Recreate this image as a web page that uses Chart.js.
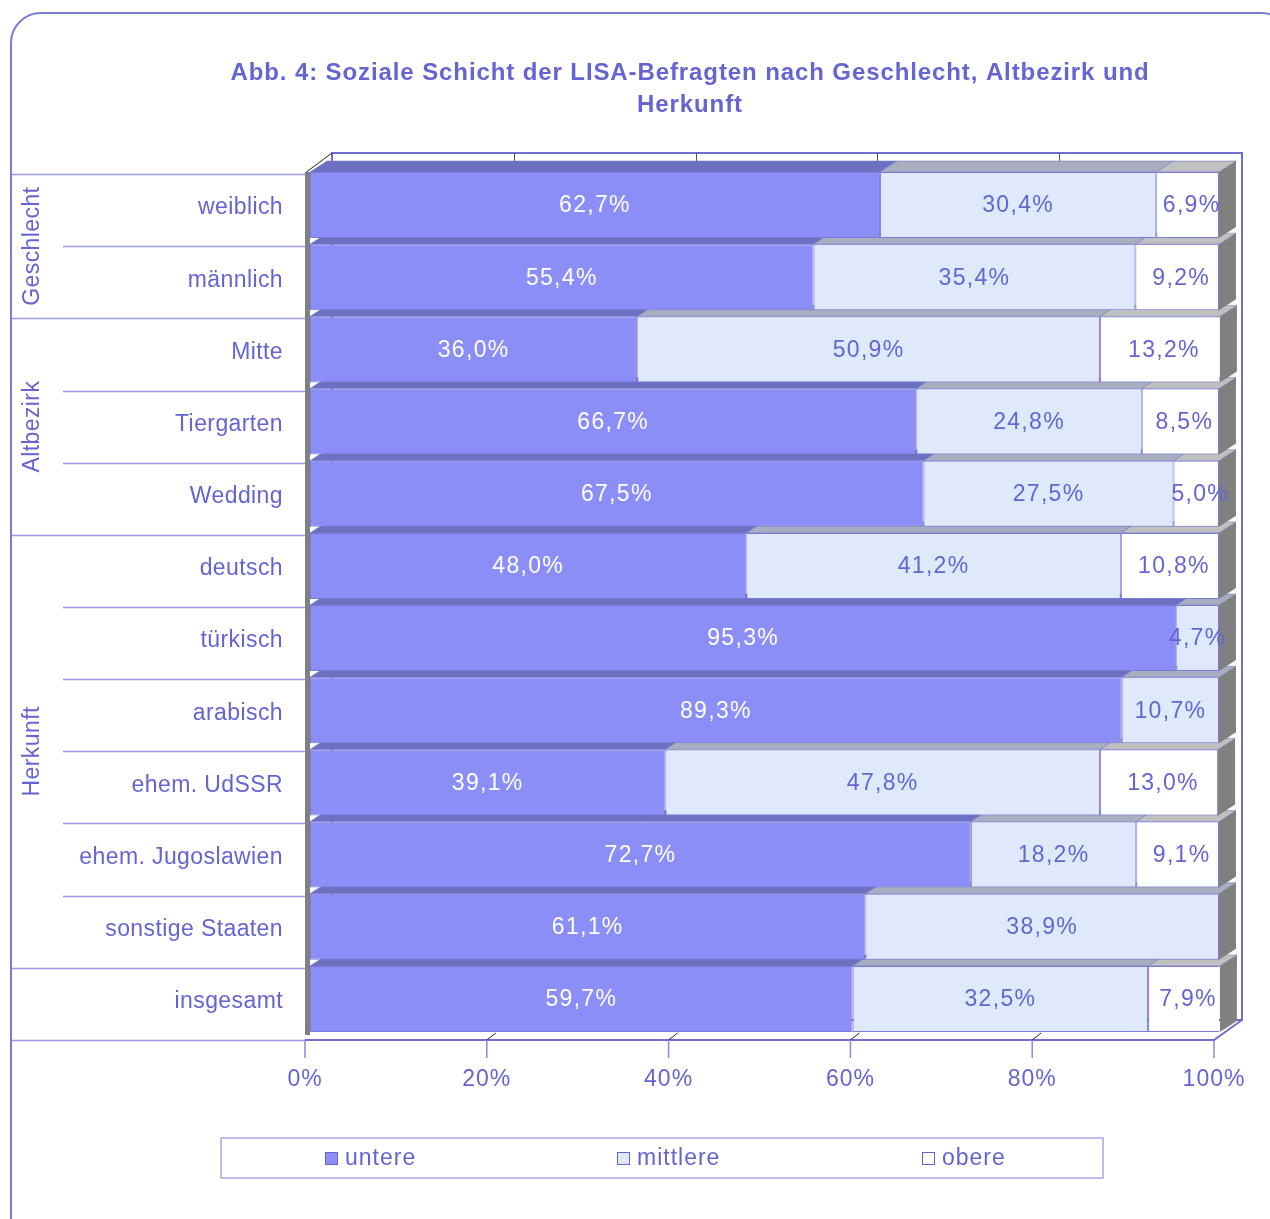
<!DOCTYPE html>
<html><head><meta charset="utf-8">
<script src="https://cdn.jsdelivr.net/npm/chart.js@4/dist/chart.umd.min.js"></script>
<style>html,body{margin:0;padding:0;background:#fff;}canvas{display:block;}</style>
</head><body>
<canvas id="c" width="1270" height="1219"></canvas>
<script>
const titleLines = ['Abb. 4: Soziale Schicht der LISA-Befragten nach Geschlecht, Altbezirk und', 'Herkunft'];
const categories = ['weiblich','männlich','Mitte','Tiergarten','Wedding','deutsch','türkisch','arabisch','ehem. UdSSR','ehem. Jugoslawien','sonstige Staaten','insgesamt'];
const groupNames = ['Geschlecht','Altbezirk','Herkunft',''];
const groupFirst = [0,2,5,11];
const groupLast  = [1,4,10,11];
const seriesNames = ['untere','mittlere','obere'];
const untere   = [62.7,55.4,36.0,66.7,67.5,48.0,95.3,89.3,39.1,72.7,61.1,59.7];
const mittlere = [30.4,35.4,50.9,24.8,27.5,41.2,4.7,10.7,47.8,18.2,38.9,32.5];
const obere    = [6.9,9.2,13.2,8.5,5.0,10.8,0,0,13.0,9.1,0,7.9];
const tickValues = [0,20,40,60,80,100];

const TXT = '#6464d2';
const FONT = '"Liberation Sans", Arial, sans-serif';
const frontColors = ['#8c8ef8','#e0e8fc','#ffffff'];
const topColors = ['#6c70c0','#a8adc0','#c0c0c0'];
const labelColors = ['#ffffff', TXT, TXT];
const DX = 17, DY = 11;

function fmt(v){ return v.toFixed(1).replace('.', ',') + '%'; }

const deco = {
  id: 'deco',
  beforeDraw(chart){
    const ctx = chart.ctx, ca = chart.chartArea, xs = chart.scales.x, ys = chart.scales.y;
    ctx.save();
    ctx.fillStyle = '#fff'; ctx.fillRect(0,0,chart.width,chart.height);
    // frame
    ctx.strokeStyle = '#7c7cd4'; ctx.lineWidth = 2;
    ctx.beginPath(); ctx.roundRect(11, 13, 1280, 1240, 30); ctx.stroke();
    // title
    ctx.fillStyle = TXT; ctx.font = 'bold 24px ' + FONT; ctx.textAlign = 'center'; ctx.textBaseline = 'middle';
    ctx.letterSpacing = '0.9px';
    titleLines.forEach((t, k) => ctx.fillText(t, 690, 73 + k*32));
    ctx.letterSpacing = '0px';
    // back wall
    const wl = xs.getPixelForValue(0) + 22, wr = xs.getPixelForValue(100) + 23;
    const wt = ca.top - 16, wb = ca.bottom - 15;
    ctx.strokeStyle = '#6e6ed0'; ctx.lineWidth = 2;
    ctx.strokeRect(wl, wt, wr - wl, wb - wt);
    ctx.strokeStyle = '#555'; ctx.lineWidth = 1;
    tickValues.slice(1, -1).forEach(v => {
      const x = Math.round(xs.getPixelForValue(v) + 22) + 0.5;
      ctx.beginPath(); ctx.moveTo(x, wt); ctx.lineTo(x, ca.top - 6); ctx.stroke();
    });
    // floor
    const fl = xs.getPixelForValue(0) - 5, fr = xs.getPixelForValue(100) - 5, fy = ca.bottom + 5;
    ctx.strokeStyle = '#6e6ed0'; ctx.lineWidth = 2;
    ctx.beginPath(); ctx.moveTo(fl, fy); ctx.lineTo(fr, fy); ctx.lineTo(wr, wb); ctx.stroke();
    ctx.strokeStyle = '#222'; ctx.lineWidth = 1;
    ctx.beginPath(); ctx.moveTo(fl, ca.top + 4); ctx.lineTo(wl, wt); ctx.stroke();
    tickValues.slice(1, -1).forEach(v => {
      const x = xs.getPixelForValue(v) - 5;
      ctx.beginPath(); ctx.moveTo(x, fy); ctx.lineTo(x + 9, fy - 7); ctx.stroke();
    });
    // ticks and tick labels
    ctx.strokeStyle = '#8a8ae0'; ctx.lineWidth = 1.5;
    ctx.fillStyle = TXT; ctx.font = '23px ' + FONT; ctx.textAlign = 'center'; ctx.textBaseline = 'middle';
    ctx.letterSpacing = '1px';
    tickValues.forEach(v => {
      const x = xs.getPixelForValue(v) - 5;
      ctx.beginPath(); ctx.moveTo(x, fy); ctx.lineTo(x, fy + 18); ctx.stroke();
      ctx.fillText(v + '%', x, fy + 40);
    });
    // left table
    const half = (ys.getPixelForValue(1) - ys.getPixelForValue(0)) / 2;
    ctx.strokeStyle = '#9a9ae0'; ctx.lineWidth = 1.5;
    const firstSet = new Set(groupFirst);
    for (let i = 0; i <= categories.length; i++) {
      const y = (i < categories.length ? ys.getPixelForValue(i) - half : ys.getPixelForValue(i - 1) + half) + 5;
      const full = firstSet.has(i) || i === categories.length;
      ctx.beginPath(); ctx.moveTo(full ? 12 : 63, Math.round(y) + 0.5); ctx.lineTo(fl, Math.round(y) + 0.5); ctx.stroke();
    }
    ctx.fillStyle = TXT; ctx.font = '23px ' + FONT; ctx.textAlign = 'right'; ctx.textBaseline = 'middle';
    ctx.letterSpacing = '0.4px';
    categories.forEach((c, i) => ctx.fillText(c, 283, ys.getPixelForValue(i) + 3));
    ctx.textAlign = 'center';
    groupNames.forEach((g, k) => {
      if (!g) return;
      const yc = (ys.getPixelForValue(groupFirst[k]) + ys.getPixelForValue(groupLast[k])) / 2 + 5;
      ctx.save(); ctx.translate(33, yc); ctx.rotate(-Math.PI / 2); ctx.fillText(g, 0, 0); ctx.restore();
    });
    // legend
    ctx.letterSpacing = '1px';
    ctx.strokeStyle = '#a8a8e8'; ctx.lineWidth = 1.5;
    ctx.strokeRect(221, 1138, 882, 40);
    const lx = [325, 617, 922];
    ctx.textAlign = 'left'; ctx.font = '23px ' + FONT;
    chart.data.datasets.forEach((ds, k) => {
      ctx.fillStyle = ds.backgroundColor; ctx.fillRect(lx[k], 1152, 13, 13);
      ctx.strokeStyle = '#6464d2'; ctx.lineWidth = 1; ctx.strokeRect(lx[k] + 0.5, 1152.5, 12, 12);
      ctx.fillStyle = TXT; ctx.fillText(ds.label, lx[k] + 20, 1159);
    });
    ctx.letterSpacing = '0px';
    ctx.restore();
  },
  beforeDatasetsDraw(chart){
    const ctx = chart.ctx, ca = chart.chartArea;
    const metas = chart.data.datasets.map((d, k) => chart.getDatasetMeta(k));
    ctx.save();
    // left gray side
    ctx.fillStyle = '#808080';
    ctx.fillRect(ca.left - 5, ca.top + 3, 5, ca.bottom - ca.top - 3);
    for (let i = categories.length - 1; i >= 0; i--) {
      let xEnd = 0, top = 0, bot = 0;
      metas.forEach((m, k) => {
        const el = m.data[i];
        const x1 = Math.min(el.base, el.x), x2 = Math.max(el.base, el.x);
        top = el.y - el.height / 2; bot = el.y + el.height / 2;
        if (x2 - x1 < 0.5) return;
        xEnd = Math.max(xEnd, x2);
        ctx.fillStyle = topColors[k];
        ctx.beginPath(); ctx.moveTo(x1, top); ctx.lineTo(x2, top); ctx.lineTo(x2 + DX, top - DY); ctx.lineTo(x1 + DX, top - DY); ctx.closePath(); ctx.fill();
        ctx.strokeStyle = 'rgba(120,120,200,0.6)'; ctx.lineWidth = 1; ctx.stroke();
      });
      ctx.fillStyle = '#808080';
      ctx.beginPath(); ctx.moveTo(xEnd, top); ctx.lineTo(xEnd + DX, top - DY); ctx.lineTo(xEnd + DX, bot - DY); ctx.lineTo(xEnd, bot); ctx.closePath(); ctx.fill();
    }
    ctx.restore();
  },
  afterDatasetsDraw(chart){
    const ctx = chart.ctx;
    ctx.save();
    ctx.font = '23px ' + FONT; ctx.textAlign = 'center'; ctx.textBaseline = 'middle';
    ctx.letterSpacing = '1.3px';
    chart.data.datasets.forEach((ds, k) => {
      const m = chart.getDatasetMeta(k);
      ds.data.forEach((v, i) => {
        if (!v) return;
        const el = m.data[i];
        ctx.fillStyle = labelColors[k];
        ctx.fillText(fmt(v), (el.x + el.base) / 2 + (k === 2 ? 4 : 0), el.y + 1);
      });
    });
    ctx.restore();
  }
};

new Chart(document.getElementById('c'), {
  type: 'bar',
  data: {
    labels: categories,
    datasets: [
      { label: seriesNames[0], data: untere,   backgroundColor: frontColors[0] },
      { label: seriesNames[1], data: mittlere, backgroundColor: frontColors[1] },
      { label: seriesNames[2], data: obere,    backgroundColor: frontColors[2] }
    ]
  },
  options: {
    indexAxis: 'y',
    responsive: false,
    animation: false,
    devicePixelRatio: 1,
    layout: { padding: { left: 310, right: 51, top: 169, bottom: 184 } },
    datasets: { bar: { barPercentage: 0.915, categoryPercentage: 1.0, borderWidth: 1, borderColor: '#7a7ad8', borderSkipped: false } },
    scales: {
      x: { stacked: true, min: 0, max: 100, display: false },
      y: { stacked: true, display: false }
    },
    plugins: { legend: { display: false }, title: { display: false }, tooltip: { enabled: false } }
  },
  plugins: [deco]
});
</script>
</body></html>
